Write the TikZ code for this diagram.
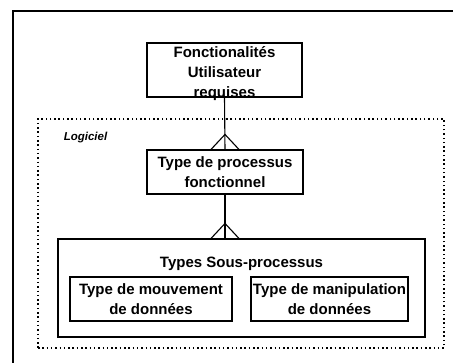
\documentclass[tikz,border=0pt]{standalone}
\usepackage{fontspec}
\setmainfont{Liberation Sans}
\usetikzlibrary{calc}
\begin{document}
\begin{tikzpicture}[x=1pt,y=-1pt,
  box/.style={draw, line width=1.1pt, rectangle, inner sep=0pt, align=center,
    font=\fontsize{15}{19.5}\selectfont\bfseries},
  txt/.style={inner sep=0pt, align=center, font=\fontsize{15}{20}\selectfont\bfseries},
  dotline/.style={line width=1.8pt, line cap=butt, dash pattern=on 1.5pt off 2.8pt},
  conn/.style={line width=1.1pt}]
\useasboundingbox (0,0) rectangle (453,363);
\clip (0,0) rectangle (453,363);
\fill[white] (0,0) rectangle (453,363);
% outer frame (extends beyond the picture)
\draw[line width=1.4pt] (13,380) -- (13,11) -- (470,11);
% dotted software boundary
\node[dotline, draw, minimum width=406pt, minimum height=229pt, inner sep=0pt] (soft) at (241,233.5) {};
\node[inner sep=0pt, font=\fontsize{11.5}{13}\selectfont\bfseries\itshape] (logi) at (85.5,138) {Logiciel};
% boxes
\node[box, minimum width=155pt, minimum height=54pt] (top) at (224.5,70) {};
\node[txt] (topt) at (224.5,74) {Fonctionalités\\Utilisateur\\requises};
\node[box, minimum width=156pt, minimum height=44pt] (proc) at (225,172) {Type de processus\\fonctionnel};
\node[box, minimum width=367pt, minimum height=98pt] (sub) at (241.5,288) {};
\node[txt] (subt) at (241.5,264) {Types Sous-processus};
\node[box, minimum width=162pt, minimum height=44pt] (mvt) at (151,299) {Type de mouvement\\de données};
\node[box, minimum width=157pt, minimum height=44pt] (manip) at (329.5,299) {Type de manipulation\\de données};
% connectors with crow's feet
\draw[conn] (top.south) -- (proc.north);
\draw[conn] ($(proc.north)+(-14,0)$) -- ($(proc.north)+(0,-15)$) -- ($(proc.north)+(14,0)$);
\coordinate (subtop) at (proc.south |- sub.north);
\draw[conn] (proc.south) -- (subtop);
\draw[conn] ($(subtop)+(-14,0)$) -- ($(subtop)+(0,-15)$) -- ($(subtop)+(14,0)$);
\end{tikzpicture}
\end{document}
